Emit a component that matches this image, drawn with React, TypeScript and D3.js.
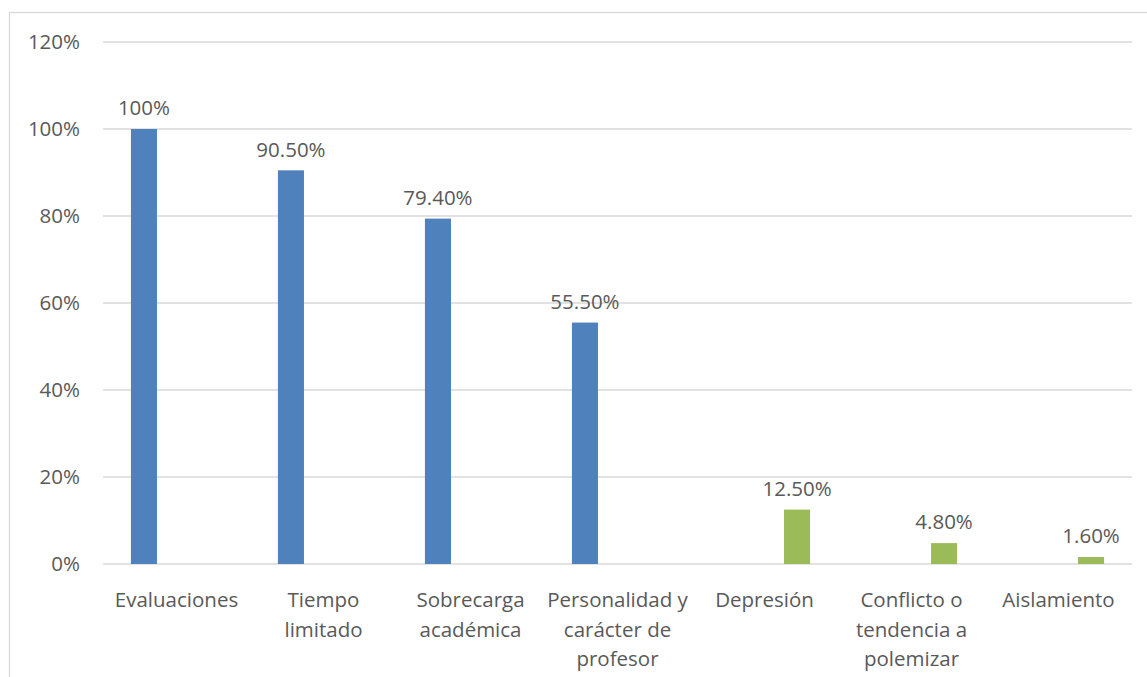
import React, { useEffect, useRef } from "react";
import * as d3 from "d3";

const categories = [
  "Evaluaciones",
  "Tiempo\nlimitado",
  "Sobrecarga\nacadémica",
  "Personalidad y\ncarácter de\nprofesor",
  "Depresión",
  "Conflicto o\ntendencia a\npolemizar",
  "Aislamiento",
];
const seriesA = [1.0, 0.905, 0.794, 0.555, null, null, null];
const seriesB = [null, null, null, null, 0.125, 0.048, 0.016];
const yTicks = [0, 0.2, 0.4, 0.6, 0.8, 1.0, 1.2];
const valueLabels = ["100%", "90.50%", "79.40%", "55.50%", "12.50%", "4.80%", "1.60%"];

const W = 1147, H = 677;
const FONT = "'Open Sans', sans-serif";
const FS = "20.5px";
const TEXT = "#595959";

export default function App() {
  const ref = useRef<SVGSVGElement>(null);

  useEffect(() => {
    const svg = d3.select(ref.current);
    svg.selectAll("*").remove();

    const left = 103, right = 1132, top = 42, bottom = 564;

    // chart frame (runs off the right and bottom)
    svg.append("rect")
      .attr("x", 9.5).attr("y", 12.5)
      .attr("width", W + 20).attr("height", H + 20)
      .attr("fill", "#fff").attr("stroke", "#d9d9d9").attr("stroke-width", 1.3);

    const x0 = d3.scaleBand().domain(categories).range([left, right]).padding(0);
    const bw = x0.bandwidth();
    const x1 = d3.scaleBand().domain(["a", "b"])
      .range([bw * 0.19, bw * 0.81]).paddingInner(0.6).paddingOuter(0);
    const y = d3.scaleLinear().domain([0, 1.2]).range([bottom, top]);

    // gridlines
    svg.append("g").selectAll("line").data(yTicks).join("line")
      .attr("x1", left).attr("x2", right)
      .attr("y1", d => y(d)).attr("y2", d => y(d))
      .attr("stroke", "#d9d9d9").attr("stroke-width", 1.5);

    // y labels
    svg.append("g").selectAll("text").data(yTicks).join("text")
      .attr("x", 80).attr("y", d => y(d))
      .attr("dy", "0.35em").attr("text-anchor", "end")
      .style("font-family", FONT).style("font-size", FS).attr("fill", TEXT)
      .text(d => `${Math.round(d * 100)}%`);

    const rows = categories.map((c, i) => {
      const a = seriesA[i], b = seriesB[i];
      return a != null ? { c, s: "a", v: a, i } : { c, s: "b", v: b as number, i };
    });

    const g = svg.append("g");
    g.selectAll("rect").data(rows).join("rect")
      .attr("x", d => (x0(d.c) as number) + (x1(d.s) as number))
      .attr("width", x1.bandwidth())
      .attr("y", d => y(d.v))
      .attr("height", d => bottom - y(d.v))
      .attr("fill", d => (d.s === "a" ? "#4f81bd" : "#9bbb59"));

    g.selectAll("text").data(rows).join("text")
      .attr("x", d => (x0(d.c) as number) + (x1(d.s) as number) + x1.bandwidth() / 2)
      .attr("y", d => y(d.v) - 21)
      .attr("dy", "0.35em").attr("text-anchor", "middle")
      .style("font-family", FONT).style("font-size", FS).attr("fill", TEXT)
      .text(d => valueLabels[d.i]);

    // category labels
    const cl = svg.append("g").selectAll("text").data(categories).join("text")
      .attr("text-anchor", "middle")
      .style("font-family", FONT).style("font-size", FS).attr("fill", TEXT);
    cl.each(function (d) {
      const t = d3.select(this);
      d.split("\n").forEach((line, k) => {
        t.append("tspan")
          .attr("x", (x0(d) as number) + bw / 2)
          .attr("y", 600 + k * 29.5)
          .attr("dy", "0.35em")
          .text(line);
      });
    });
  }, []);

  return (
    <svg ref={ref} width={W} height={H}
      style={{ position: "absolute", left: 0, top: 0, background: "#fff" }} />
  );
}
